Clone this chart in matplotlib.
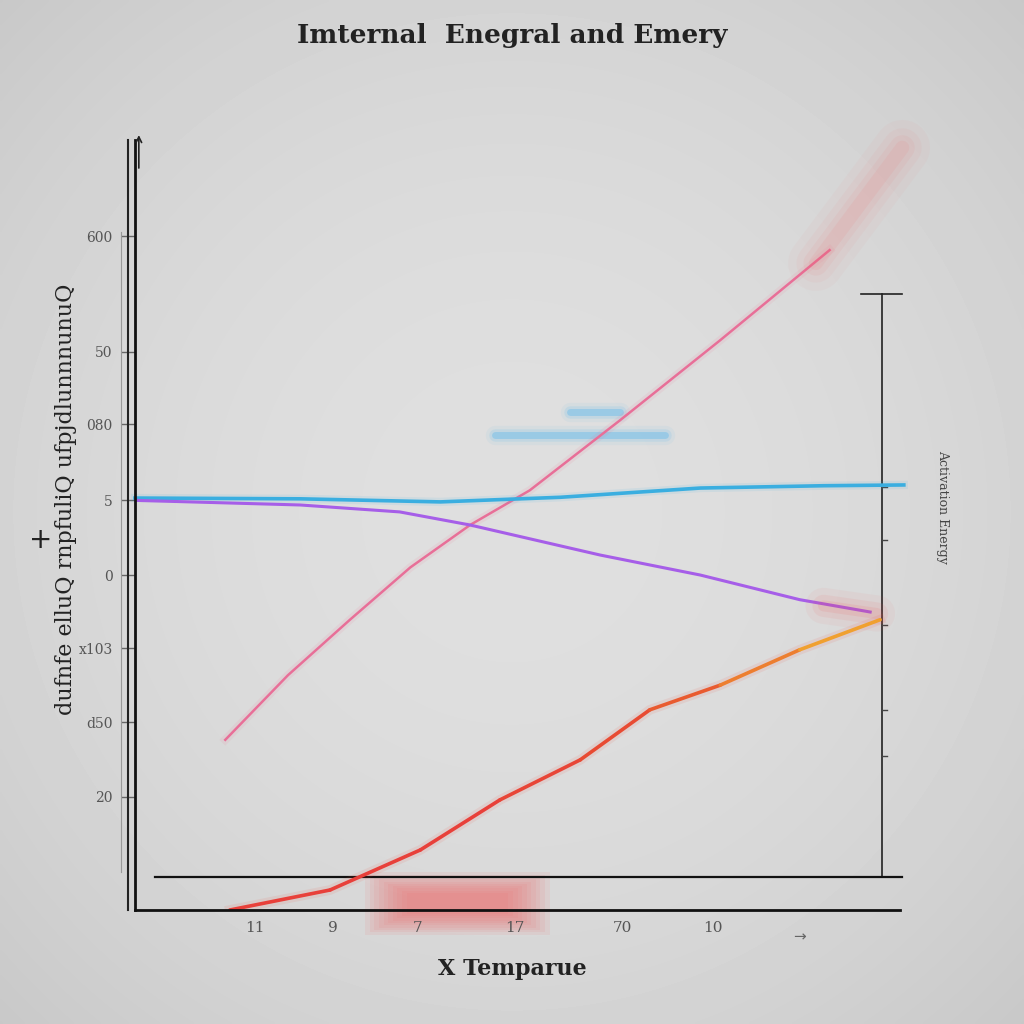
import matplotlib.pyplot as plt
import numpy as np
from matplotlib.collections import LineCollection

# Chart data (axes run 0..100 both ways)
pink_x = [11.8, 20.0, 28.1, 36.0, 43.8, 51.6, 63.4, 76.5, 90.8]
pink_y = [22.1, 30.5, 37.7, 44.5, 50.0, 54.5, 63.6, 74.0, 85.7]
blue_x = [0.0, 21.6, 39.9, 55.6, 73.9, 90.0, 100.5]
blue_y = [53.5, 53.4, 53.0, 53.6, 54.8, 55.1, 55.2]
purple_x = [0.0, 21.6, 34.6, 43.8, 60.8, 73.9, 86.9, 96.1]
purple_y = [53.2, 52.6, 51.7, 50.0, 46.1, 43.5, 40.3, 38.7]
red_x = [12.4, 25.5, 37.3, 47.7, 58.2, 67.3, 76.5, 86.9, 97.4]
red_y = [0.0, 2.6, 7.8, 14.3, 19.5, 26.0, 29.2, 33.8, 37.7]

y_ticks = [87.5, 72.5, 63.1, 53.2, 43.5, 34.0, 24.4, 14.7]
y_labels = ['600', '50', '080', '5', '0', 'x103', 'd50', '20']
x_ticks = [15.7, 25.9, 37.0, 49.7, 63.7, 75.6]
x_labels = ['11', '9', '7', '17', '70', '10']

fig = plt.figure(figsize=(10.24, 10.24), dpi=100)

# soft grey background, a touch lighter in the middle
bg = fig.add_axes([0, 0, 1, 1])
yy, xx = np.mgrid[-1:1:300j, -1:1:300j]
r = np.sqrt(xx ** 2 + yy ** 2)
bg.imshow(0.875 - 0.045 * r ** 2, cmap='gray', vmin=0, vmax=1, extent=[0, 1, 0, 1],
          aspect='auto', interpolation='bilinear')
bg.set_xlim(0, 1)
bg.set_ylim(0, 1)
bg.axis('off')

ax = fig.add_axes([135 / 1024, 1 - 910 / 1024, 765 / 1024, 770 / 1024])
ax.set_xlim(0, 100)
ax.set_ylim(0, 100)
ax.patch.set_alpha(0)
for s in ['top', 'right']:
    ax.spines[s].set_visible(False)
ax.spines['left'].set_linewidth(2)
ax.spines['bottom'].set_linewidth(2)
ax.spines['left'].set_color('#111111')
ax.spines['bottom'].set_color('#111111')

# second thin line left of the y axis
ax.plot([-0.9, -0.9], [0, 100], color='#222222', lw=1.5, clip_on=False)
ax.plot([-1.8, -1.8], [5, 88], color='#999999', lw=0.8, clip_on=False)
ax.annotate('', xy=(0.5, 101), xytext=(0.5, 96),
            arrowprops=dict(arrowstyle='->', color='#222222', lw=1.2), annotation_clip=False)

ax.set_yticks(y_ticks)
ax.set_yticklabels(y_labels, fontsize=10, color='#555555', family='DejaVu Serif')
ax.set_xticks(x_ticks)
ax.set_xticklabels(x_labels, fontsize=11, color='#555555', family='DejaVu Serif')
ax.tick_params(axis='y', length=10, width=1, color='#666666', pad=6)
ax.tick_params(axis='x', length=0, pad=8)
ax.text(86.9, -2.5, '→', ha='center', va='top', fontsize=11, color='#666666')

# right-hand axis and lower baseline
ax.plot([97.6, 97.6], [4.4, 80.0], color='#222222', lw=1.2, clip_on=False)
ax.plot([94.9, 100.2], [80.0, 80.0], color='#222222', lw=1.2, clip_on=False)
ax.plot([2.6, 100.2], [4.3, 4.3], color='#111111', lw=1.6, clip_on=False)
for t in [55, 48, 37, 26, 20]:
    ax.plot([97.6, 98.3], [t, t], color='#444444', lw=1, clip_on=False)

# red blurred block near the bottom
for i in range(10):
    ax.add_patch(plt.Rectangle((30.1 + i * 0.6, -3.2 + i * 0.3), 24.1 - i * 1.2, 8.1 - i * 0.6,
                               color='#f06868', alpha=0.09, lw=0, clip_on=False))

# blurred blue bars
for w, a in [(14, 0.06), (9, 0.12), (5, 0.3)]:
    ax.plot([56.9, 63.4], [64.7, 64.7], color='#40b0f0', lw=w, alpha=a, solid_capstyle='round')
    ax.plot([47.1, 69.3], [61.7, 61.7], color='#40b0f0', lw=w, alpha=a, solid_capstyle='round')

# pink line with a diffuse glowing tail
ax.plot(pink_x, pink_y, color='#f07090', lw=6, alpha=0.10)
ax.plot(pink_x, pink_y, color='#e86f98', lw=1.8)
for w, a in [(40, 0.04), (28, 0.05), (18, 0.07), (10, 0.09)]:
    ax.plot([89.0, 100.3], [84.0, 99.0], color='#f06a6a', lw=w, alpha=a,
            solid_capstyle='round', clip_on=False)

# blue and purple lines
ax.plot(blue_x, blue_y, color='#3aaee0', lw=6, alpha=0.10, clip_on=False)
ax.plot(blue_x, blue_y, color='#3aaee0', lw=2.6, clip_on=False)
ax.plot(purple_x, purple_y, color='#a65ee8', lw=2.2)
for w, a in [(26, 0.05), (16, 0.08), (8, 0.1)]:
    ax.plot([90, 97], [39.5, 38.5], color='#f05050', lw=w, alpha=a, solid_capstyle='round')

# red-to-orange line
pts = np.column_stack([red_x, red_y])
segs = np.stack([pts[:-1], pts[1:]], axis=1)
cols = plt.matplotlib.colors.LinearSegmentedColormap.from_list(
    'ro', ['#e8403a', '#e8403a', '#e85030', '#f0a030'])(np.linspace(0, 1, len(segs)))
ax.plot(red_x, red_y, color='#f05040', lw=7, alpha=0.10)
ax.add_collection(LineCollection(segs, colors=cols, linewidths=2.6, capstyle='round'))

# titles and labels
fig.text(0.500, 0.965, 'Imternal  Enegral and Emery', ha='center', va='center',
         fontsize=19, fontweight='bold', family='DejaVu Serif', color='#222222')
fig.text(0.500, 0.054, 'X Temparue', ha='center', va='center',
         fontsize=16, fontweight='bold', family='DejaVu Serif', color='#222222')
fig.text(0.064, 0.512, 'dufnfe elluQ rnpfuliQ ufpjdlunnnunuQ', ha='center', va='center',
         rotation=90, fontsize=16, family='DejaVu Serif', color='#222222')
fig.text(0.920, 0.505, 'Activation Energy', ha='center', va='center',
         rotation=270, fontsize=9, family='DejaVu Serif', color='#444444')
fig.text(0.040, 0.473, '+', ha='center', va='center', fontsize=20, color='#222222')

fig.savefig('out.png', dpi=100)
